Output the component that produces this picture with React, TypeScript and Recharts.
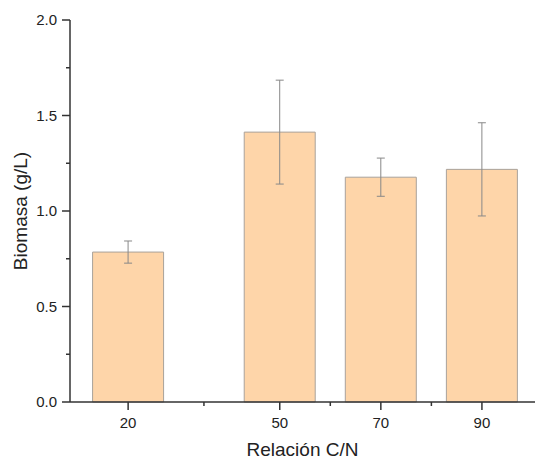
import { ComposedChart, Bar, ErrorBar, XAxis, YAxis } from 'recharts';

const ratios = [20, 50, 70, 90];
const biomass = [0.785, 1.413, 1.177, 1.218];
const biomassSd = [0.058, 0.272, 0.1, 0.244];

const xTicks = [20, 35, 50, 60, 70, 80, 90];
const xMajor = [20, 50, 70, 90];
const yTicks = [0, 0.25, 0.5, 0.75, 1, 1.25, 1.5, 1.75, 2];

const data = ratios.map((r, i) => ({ ratio: r, biomass: biomass[i], err: biomassSd[i] }));

const AXIS = '#333333';
const FONT = '"Liberation Sans", Arial, sans-serif';

function XTick(props: any) {
  const { x, y, payload } = props;
  const major = xMajor.includes(payload.value);
  return (
    <g>
      <line x1={x} x2={x} y1={y} y2={y + (major ? 8 : 4)} stroke={AXIS} strokeWidth={1.5} />
      {major && (
        <text x={x} y={y + 26} textAnchor="middle" fontSize={15} fontFamily={FONT} fill="#222">
          {payload.value}
        </text>
      )}
    </g>
  );
}

function YTick(props: any) {
  const { x, y, payload } = props;
  const major = Math.abs((payload.value * 2) % 1) < 1e-6;
  return (
    <g>
      <line x1={x - (major ? 8 : 4)} x2={x} y1={y} y2={y} stroke={AXIS} strokeWidth={1.5} />
      {major && (
        <text x={x - 13} y={y + 5} textAnchor="end" fontSize={15} fontFamily={FONT} fill="#222">
          {payload.value.toFixed(1)}
        </text>
      )}
    </g>
  );
}

export default function App() {
  return (
    <div style={{ position: 'absolute', left: 0, top: 0, width: 535, height: 459, background: '#fff' }}>
      <ComposedChart
        width={535}
        height={459}
        data={data}
        margin={{ top: 20, right: 0, bottom: 0, left: 0 }}
      >
        <XAxis
          dataKey="ratio"
          type="number"
          domain={[8.5, 100.5]}
          allowDataOverflow
          ticks={xTicks}
          interval={0}
          height={57}
          tickSize={0}
          tickMargin={0}
          tickLine={false}
          axisLine={{ stroke: AXIS, strokeWidth: 1.5 }}
          tick={<XTick />}
          label={{
            value: 'Relación C/N',
            position: 'insideBottom',
            offset: 3,
            fontSize: 19,
            fontFamily: FONT,
            fill: '#222',
          }}
        />
        <YAxis
          type="number"
          domain={[0, 2]}
          ticks={yTicks}
          interval={0}
          width={70}
          tickSize={0}
          tickMargin={0}
          tickLine={false}
          axisLine={{ stroke: AXIS, strokeWidth: 1.5 }}
          tick={<YTick />}
          label={{
            value: 'Biomasa (g/L)',
            angle: -90,
            position: 'insideLeft',
            offset: 20,
            style: { textAnchor: 'middle' },
            fontSize: 19,
            fontFamily: FONT,
            fill: '#222',
          }}
        />
        <Bar
          dataKey="biomass"
          barSize={71}
          fill="#fed5a9"
          stroke="#a9a29b"
          strokeWidth={1}
          isAnimationActive={false}
        >
          <ErrorBar dataKey="err" width={4} stroke="#888888" strokeWidth={1} isAnimationActive={false} />
        </Bar>
      </ComposedChart>
    </div>
  );
}
